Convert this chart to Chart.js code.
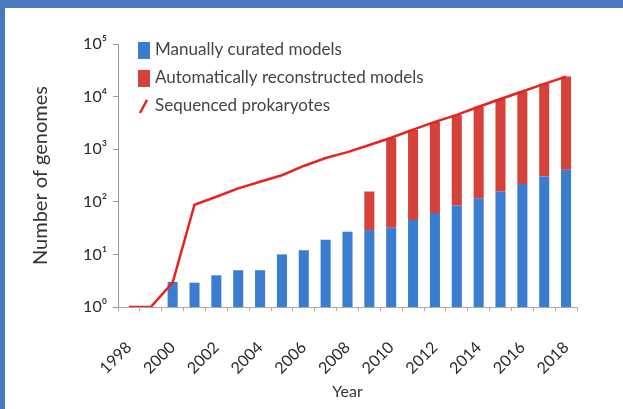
<!DOCTYPE html>
<html>
<head>
<meta charset="utf-8">
<script src="https://cdn.jsdelivr.net/npm/chart.js@4.4.1/dist/chart.umd.min.js"></script>
<style>
  html, body { margin: 0; padding: 0; background: #fff; }
  #wrap {
    position: absolute; left: 0; top: 0;
    width: 623px; height: 409px; box-sizing: border-box;
    border-top: 8px solid #4a79be; border-left: 5px solid #4a79be;
    background: #fff;
  }
  #genomeChart { display: block; }
</style>
</head>
<body>
<div id="wrap"><canvas id="genomeChart" width="618" height="401"></canvas></div>
<script>
// Data
const years = ['1998', '1999', '2000', '2001', '2002', '2003', '2004', '2005', '2006', '2007', '2008',
  '2009', '2010', '2011', '2012', '2013', '2014', '2015', '2016', '2017', '2018'];
const xTickLabels = ['1998', '2000', '2002', '2004', '2006', '2008', '2010', '2012', '2014', '2016', '2018'];
const yTickValues = [1, 10, 100, 1000, 10000, 100000];
const yTickLabels = ['10⁰', '10¹', '10²', '10³', '10⁴', '10⁵'];

const manualModels = [null, null, 3, 2.9, 4, 5, 5, 10, 12, 19, 27, 29, 32, 45, 61, 85, 117, 157, 219, 303, 406];
const autoModels = [null, null, null, null, null, null, null, null, null, null, null,
  128, 1600, 2300, 3240, 4400, 6300, 8800, 12300, 17200, 23600];
const seqProkaryotes = [1, 1, 2.9, 88, 125, 180, 240, 320, 480, 680, 880,
  1200, 1650, 2350, 3300, 4500, 6400, 9000, 12500, 17500, 24000];

const blue = '#3a7ccf';
const red = '#d5413b';
const lineRed = '#e6241d';
const fontFamily = 'Lato, "Liberation Sans", sans-serif';

// legend drawn inside the plot area, top left
const insideLegend = {
  id: 'insideLegend',
  afterDraw(chart) {
    const ctx = chart.ctx;
    const area = chart.chartArea;
    const x = area.left + 20;
    ctx.save();
    ctx.font = '17px ' + fontFamily;
    ctx.textBaseline = 'middle';
    chart.data.datasets.forEach((ds, i) => {
      const y = area.top + 6 + i * 28;
      if (ds.type === 'line') {
        ctx.strokeStyle = ds.borderColor;
        ctx.lineWidth = 2.5;
        ctx.beginPath();
        ctx.moveTo(x + 2, y + 7);
        ctx.lineTo(x + 9, y - 6);
        ctx.stroke();
      } else {
        ctx.fillStyle = ds.backgroundColor;
        ctx.fillRect(x, y - 8, 12, 17);
      }
      ctx.fillStyle = '#444';
      ctx.fillText(ds.label, x + 17, y);
    });
    ctx.restore();
  }
};

const ctx = document.getElementById('genomeChart').getContext('2d');
new Chart(ctx, {
  type: 'bar',
  data: {
    labels: years,
    datasets: [
      {
        label: 'Manually curated models',
        data: manualModels,
        backgroundColor: blue,
        stack: 'models',
        barPercentage: 0.46,
        categoryPercentage: 1
      },
      {
        label: 'Automatically reconstructed models',
        data: autoModels,
        backgroundColor: red,
        stack: 'models',
        barPercentage: 0.46,
        categoryPercentage: 1
      },
      {
        type: 'line',
        label: 'Sequenced prokaryotes',
        data: seqProkaryotes,
        borderColor: lineRed,
        backgroundColor: lineRed,
        borderWidth: 2.5,
        pointRadius: 0,
        tension: 0,
        stack: 'seq',
        order: -1
      }
    ]
  },
  options: {
    responsive: false,
    animation: false,
    layout: { padding: { top: 36, right: 46, bottom: 0, left: 0 } },
    plugins: {
      legend: { display: false },
      tooltip: { enabled: false }
    },
    scales: {
      x: {
        stacked: true,
        offset: true,
        afterFit: (scale) => { scale.height = 102; },
        grid: { drawOnChartArea: false, offset: true, tickLength: 4, color: '#aaa' },
        border: { color: '#aaa' },
        ticks: {
          autoSkip: false,
          minRotation: 45,
          maxRotation: 45,
          padding: 27,
          color: '#2a2a2a',
          font: { family: fontFamily, size: 16 },
          callback: function(val) {
            const label = this.getLabelForValue(val);
            return xTickLabels.includes(label) ? label : '';
          }
        },
        title: {
          display: true,
          text: 'Year',
          color: '#333',
          font: { family: fontFamily, size: 16 },
          padding: { top: 2, bottom: 8 }
        }
      },
      y: {
        type: 'logarithmic',
        stacked: true,
        min: 1,
        max: 100000,
        afterFit: (scale) => { scale.width = 113; },
        afterBuildTicks: (scale) => {
          scale.ticks = yTickValues.map(v => ({ value: v }));
        },
        grid: { drawOnChartArea: false, tickLength: 5, color: '#999' },
        border: { color: '#999' },
        ticks: {
          padding: 6,
          color: '#2a2a2a',
          font: { family: fontFamily, size: 16 },
          callback: (val) => {
            const i = yTickValues.indexOf(val);
            return i >= 0 ? yTickLabels[i] : '';
          }
        },
        title: {
          display: true,
          text: 'Number of genomes',
          color: '#333',
          font: { family: fontFamily, size: 20 },
          padding: { top: 24, bottom: 0 }
        }
      }
    }
  },
  plugins: [insideLegend]
});
</script>
</body>
</html>
